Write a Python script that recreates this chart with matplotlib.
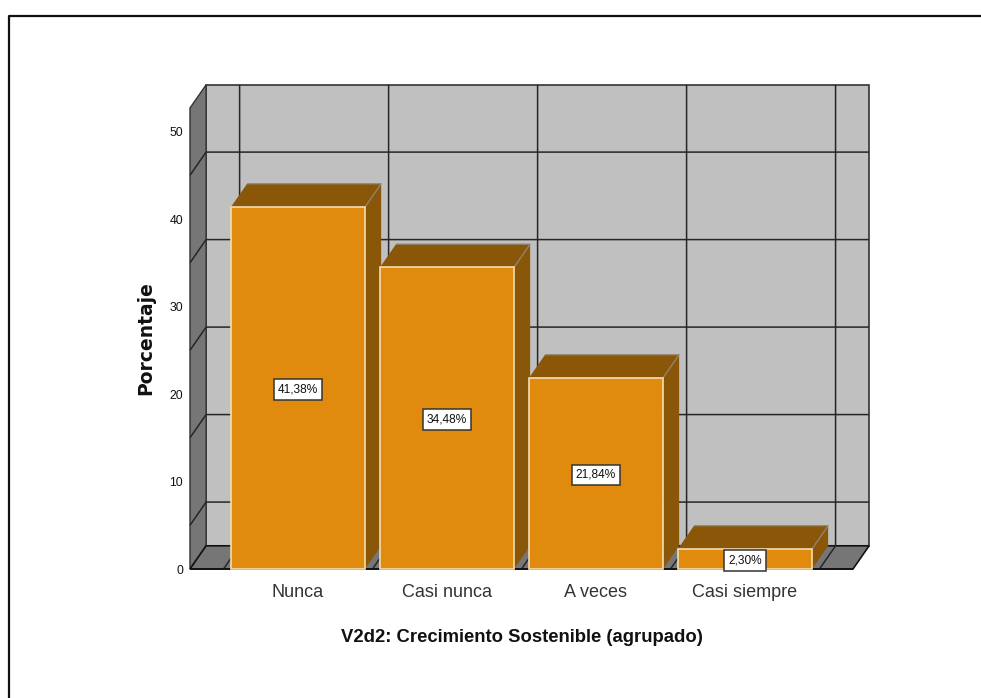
import matplotlib
matplotlib.use("Agg")
import matplotlib.pyplot as plt
from matplotlib.patches import Polygon, Rectangle

categories = ["Nunca", "Casi nunca", "A veces", "Casi siempre"]
values = [41.38, 34.48, 21.84, 2.30]
y_ticks = [0, 10, 20, 30, 40, 50]
grid_levels = [5, 15, 25, 35, 45]
x_label = "V2d2: Crecimiento Sostenible (agrupado)"
y_label = "Porcentaje"

W, H = 981, 698
DX, DY = 0.108, 2.65     # depth of the pseudo-3D box, data units
BAR_HALF = 0.45
Y_TOP = 52.69
X_MIN, X_MAX = -0.725, 3.725

ORANGE = "#E08A0E"
BROWN = "#8A5708"
WALL = "#C0C0C0"
DARK_WALL = "#767676"
GRID = "#262626"

plt.rcParams["font.family"] = ["Liberation Sans", "DejaVu Sans"]
fig = plt.figure(figsize=(W / 100, H / 100), dpi=100, facecolor="white")
ax = fig.add_axes([190 / W, (H - 569) / H, 663 / W, 461 / H])
ax.set_xlim(X_MIN, X_MAX)
ax.set_ylim(0, Y_TOP)
ax.patch.set_visible(False)
for s in ax.spines.values():
    s.set_visible(False)

def poly(pts, fc, ec="none", lw=1.0, z=1):
    ax.add_patch(Polygon(pts, closed=True, fc=fc, ec=ec, lw=lw, zorder=z, clip_on=False))

def line(xs, ys, c=GRID, lw=1.1, z=2):
    ax.plot(xs, ys, color=c, lw=lw, zorder=z, clip_on=False, solid_capstyle="butt")

# walls and floor
poly([(X_MIN + DX, DY), (X_MAX + DX, DY), (X_MAX + DX, Y_TOP + DY), (X_MIN + DX, Y_TOP + DY)], WALL, "#333333", 1.2, 1)
poly([(X_MIN, 0), (X_MIN + DX, DY), (X_MIN + DX, Y_TOP + DY), (X_MIN, Y_TOP)], DARK_WALL, "#333333", 1.0, 1)
poly([(X_MIN, 0), (X_MAX, 0), (X_MAX + DX, DY), (X_MIN + DX, DY)], DARK_WALL, "#111111", 1.2, 1.5)

# grid
for g in grid_levels:
    line([X_MIN, X_MIN + DX, X_MAX + DX], [g, g + DY, g + DY])
for i in range(len(categories) + 1):
    b = i - 0.5
    line([b, b + DX, b + DX], [0, DY, Y_TOP + DY])

# bars
for i, v in enumerate(values):
    l, r = i - BAR_HALF, i + BAR_HALF
    z = 3 + i * 0.1
    poly([(r, 0), (r + DX, DY), (r + DX, v + DY), (r, v)], BROWN, z=z)
    poly([(l, v), (r, v), (r + DX, v + DY), (l + DX, v + DY)], BROWN, z=z)
    line([r, r + DX, l + DX], [v, v + DY, v + DY], c="#8F8778", lw=0.9, z=z)
    ax.add_patch(Rectangle((l, 0), r - l, v, fc=ORANGE, ec="#F3DDB4", lw=1.2, zorder=z + 0.01, clip_on=False))
    ax.annotate(f"{v:.2f}%".replace(".", ","), (i, v / 2), xytext=(0, -1), textcoords="offset points",
                ha="center", va="center", fontsize=8.6, color="#111111", zorder=6,
                bbox=dict(boxstyle="square,pad=0.36", fc="white", ec="#333333", lw=1.1))

line([X_MIN, X_MAX], [0, 0], c="#111111", lw=1.2, z=2.5)

# axes text
ax.set_xticks(range(len(categories)), categories, fontsize=13, color="#333333")
ax.set_yticks(y_ticks, [str(t) for t in y_ticks], fontsize=8.8, color="#111111")
ax.tick_params(axis="both", length=0)
ax.tick_params(axis="y", pad=5)
ax.tick_params(axis="x", pad=10.5)
ax.set_xlabel(x_label, fontsize=13.3, fontweight="bold", labelpad=20.5, color="#111111")
ax.set_ylabel(y_label, fontsize=13.5, fontweight="bold", family=["DejaVu Sans"], labelpad=10.5, color="#111111")

# outer frame
fig.add_artist(plt.Line2D([8.5 / W, 8.5 / W, 1], [0, (H - 16) / H, (H - 16) / H], color="#111111", lw=1.6,
                          transform=fig.transFigure))

fig.savefig("out.png", dpi=100)
